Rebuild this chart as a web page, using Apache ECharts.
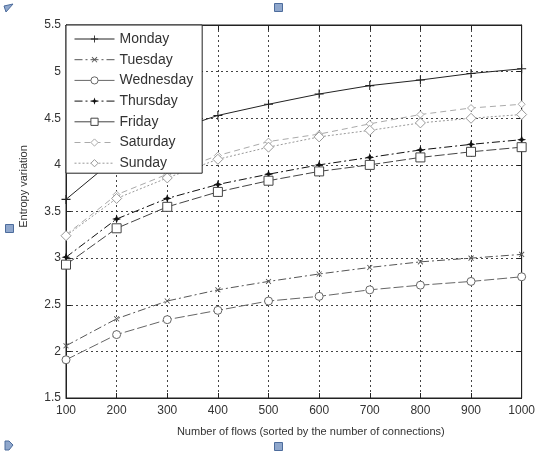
<!DOCTYPE html>
<html>
<head>
<meta charset="utf-8">
<script src="https://cdn.jsdelivr.net/npm/echarts@6/dist/echarts.min.js"></script>
<style>
html, body { margin: 0; padding: 0; background: #fff; }
#chart1 { width: 538px; height: 455px; }
</style>
</head>
<body>
<div id="chart1"></div>
<script>
// number of flows (x axis)
var flows = [100, 200, 300, 400, 500, 600, 700, 800, 900, 1000];
var days = ['Monday', 'Tuesday', 'Wednesday', 'Thursday', 'Friday', 'Saturday', 'Sunday'];
var yTicks = [1.5, 2, 2.5, 3, 3.5, 4, 4.5, 5, 5.5];

// entropy variation per day
var monday    = [3.63, 4.08, 4.35, 4.53, 4.65, 4.76, 4.85, 4.91, 4.98, 5.03];
var tuesday   = [2.06, 2.35, 2.54, 2.66, 2.75, 2.83, 2.90, 2.96, 3.00, 3.04];
var wednesday = [1.91, 2.18, 2.34, 2.44, 2.54, 2.59, 2.66, 2.71, 2.75, 2.80];
var thursday  = [3.01, 3.42, 3.64, 3.79, 3.90, 4.00, 4.08, 4.16, 4.22, 4.27];
var friday    = [2.93, 3.32, 3.55, 3.71, 3.83, 3.93, 4.00, 4.08, 4.14, 4.19];
var saturday  = [3.25, 3.68, 3.90, 4.10, 4.25, 4.33, 4.44, 4.54, 4.61, 4.65];
var sunday    = [3.24, 3.64, 3.86, 4.06, 4.19, 4.30, 4.37, 4.45, 4.50, 4.54];

function pairs(arr) {
    return flows.map(function (f, i) { return [f, arr[i]]; });
}

var plusPath = 'path://M4.4,0H5.6V4.4H10V5.6H5.6V10H4.4V5.6H0V4.4H4.4Z';
var starPath = 'path://M5,0L6.3,3.7L10,5L6.3,6.3L5,10L3.7,6.3L0,5L3.7,3.7Z';

function mk(name, arr, color, dash, symbol, size, hollow) {
    return {
        name: name,
        type: 'line',
        data: pairs(arr),
        symbol: symbol,
        symbolSize: size,
        symbolRotate: name === 'Tuesday' ? 45 : 0,
        showAllSymbol: true,
        lineStyle: { color: color, width: 1, type: dash },
        itemStyle: hollow
            ? { color: '#fff', borderColor: color, borderWidth: 1 }
            : { color: color, borderWidth: 0 },
        emphasis: { disabled: true },
        animation: false
    };
}

var handle = { fill: '#8fa7cc', stroke: '#4d6c9c', lineWidth: 1 };

var option = {
    backgroundColor: '#fff',
    textStyle: { fontFamily: 'Liberation Sans, Arial, sans-serif' },
    grid: {
        left: 66, right: 16, top: 25, bottom: 57,
        show: true, borderColor: '#222', borderWidth: 1
    },
    legend: {
        orient: 'vertical',
        left: 66, top: 25,
        padding: [7, 9, 3, 8],
        itemWidth: 40, itemHeight: 9, itemGap: 6.7,
        backgroundColor: '#fff',
        borderColor: '#222', borderWidth: 1,
        lineStyle: { width: 1 },
        itemStyle: { borderWidth: 1 },
        textStyle: { fontSize: 14, lineHeight: 14, color: '#333', fontFamily: 'Liberation Sans, Arial, sans-serif' },
        data: [
            { name: 'Monday' },
            { name: 'Tuesday' },
            { name: 'Wednesday', lineStyle: { type: 'solid', width: 1 } },
            { name: 'Thursday' },
            { name: 'Friday', lineStyle: { type: 'solid', width: 1 } },
            { name: 'Saturday' },
            { name: 'Sunday' }
        ]
    },
    xAxis: [{
        type: 'value', min: 100, max: 1000, interval: 100,
        name: 'Number of flows (sorted by the number of connections)',
        nameLocation: 'middle', nameGap: 28,
        nameTextStyle: { fontSize: 11, color: '#333', padding: [0, 0, 0, 34] },
        axisLine: { lineStyle: { color: '#222', width: 1 } },
        axisTick: { inside: true, length: 5, lineStyle: { color: '#222' } },
        axisLabel: { fontSize: 12, color: '#333', margin: 7, formatter: function (v) { return String(v); } },
        splitLine: { show: true, lineStyle: { color: '#444', type: [2, 3], width: 1 } }
    }, {
        type: 'value', min: 100, max: 1000, interval: 100, position: 'top',
        axisLine: { lineStyle: { color: '#222' } },
        axisTick: { inside: true, length: 5, lineStyle: { color: '#222' } },
        axisLabel: { show: false }, splitLine: { show: false }
    }],
    yAxis: [{
        type: 'value', min: 1.5, max: 5.5, interval: 0.5,
        name: 'Entropy variation',
        nameLocation: 'middle', nameGap: 37,
        nameTextStyle: { fontSize: 11, color: '#333', padding: [0, 0, 0, 50] },
        axisLine: { show: true, lineStyle: { color: '#222', width: 1 } },
        axisTick: { show: true, inside: true, length: 5, lineStyle: { color: '#222' } },
        axisLabel: { fontSize: 12, color: '#333', margin: 5 },
        splitLine: { show: true, lineStyle: { color: '#444', type: [2, 3], width: 1 } }
    }, {
        type: 'value', min: 1.5, max: 5.5, interval: 0.5, position: 'right',
        axisLine: { show: true, lineStyle: { color: '#222' } },
        axisTick: { show: true, inside: true, length: 5, lineStyle: { color: '#222' } },
        axisLabel: { show: false }, splitLine: { show: false }
    }],
    graphic: [
        { type: 'rect', left: 274, top: 3, shape: { width: 8, height: 8 }, style: handle },
        { type: 'rect', left: 5, top: 224, shape: { width: 8, height: 8 }, style: handle },
        { type: 'rect', left: 274, top: 442, shape: { width: 8, height: 8 }, style: handle },
        { type: 'polygon', shape: { points: [[4, 6], [13, 4], [6, 12]] }, style: handle },
        { type: 'polygon', shape: { points: [[5, 441], [9, 441], [13, 445], [9, 450], [5, 450]] }, style: handle }
    ],
    series: [
        mk('Monday', monday, '#222', 'solid', plusPath, 9, false),
        mk('Tuesday', tuesday, '#555', [8, 3, 2, 3], plusPath, 7, false),
        mk('Wednesday', wednesday, '#666', [10, 3], 'circle', 8, true),
        mk('Thursday', thursday, '#111', [8, 3, 2, 3], starPath, 9, false),
        mk('Friday', friday, '#444', [10, 3], 'rect', 9, true),
        mk('Saturday', saturday, '#aaa', [6, 4], 'diamond', 7, true),
        mk('Sunday', sunday, '#999', [2, 2], 'diamond', 10, true)
    ]
};

var myChart = echarts.init(document.getElementById('chart1'));
myChart.setOption(option);
</script>
</body>
</html>
